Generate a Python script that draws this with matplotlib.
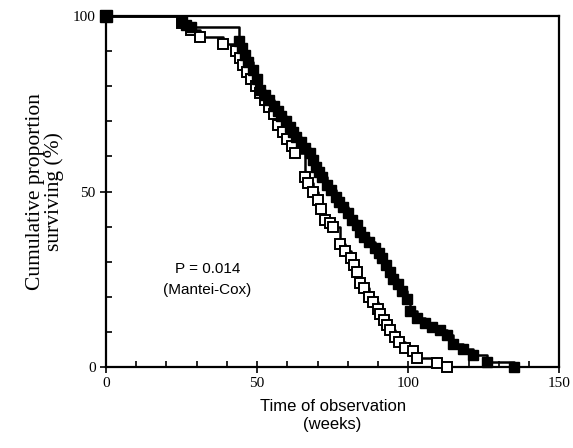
import matplotlib
matplotlib.use("Agg")
import matplotlib.pyplot as plt
from matplotlib.ticker import MultipleLocator

# Group with filled squares (longer survival)
filled_t = [0, 25, 26.5, 28, 44, 45, 46, 47, 48.5, 50, 51, 52.5, 54, 55.5, 57, 58,
            59.5, 61, 62, 63, 64.5, 66, 67.5, 68.5, 69.5, 70.5, 71.5, 73, 74.5, 76,
            77, 78.5, 80, 81.5, 83, 84, 85.5, 87, 89, 90.5, 91.5, 92.5, 94, 95, 96.5,
            98, 99.5, 100.7, 103, 105.6, 108, 110.6, 113, 115, 118, 121.5, 126, 135]
filled_s = [100, 98.5, 97.5, 97, 93, 91, 89, 87, 84.5, 82, 79, 77.5, 76, 74.5, 73, 71.5,
            70, 68.5, 67, 65.5, 64, 62.5, 61, 59, 57, 55.5, 54, 52, 50.5, 48.5,
            47, 45.5, 44, 42, 40.5, 38.5, 37, 35.5, 34, 32.5, 31, 29, 27, 25, 23.5,
            21.5, 19.5, 16, 14, 12.5, 11.5, 10.5, 9, 6.5, 5, 3.5, 1.5, 0]

# Group with open squares (shorter survival)
open_t = [0, 25, 28, 31, 38.7, 43, 44.5, 45.5, 46.5, 48, 49.5, 51, 52.5, 54, 55.5, 57,
          58.5, 60, 61.5, 62.6, 66, 67, 68.5, 70, 71, 72.5, 74, 75, 77.5, 79, 81, 82,
          83, 84, 85.5, 87, 88.5, 90, 90.7, 92, 93, 94, 95.5, 97, 99, 101.7, 103,
          109.6, 113]
open_s = [100, 98, 96, 94, 92, 90, 88, 86, 84, 82, 80, 78, 76, 74, 72, 69,
          67, 65, 63, 61, 54, 52.5, 50, 47.5, 45, 42, 41, 40, 35, 33, 31, 29,
          27, 24, 22.5, 20, 18.5, 16.5, 15, 13.5, 12, 10.5, 8.5, 7, 5.5, 4.5, 2.5,
          1.2, 0]

x_ticks = [0, 50, 100, 150]
y_ticks = [0, 50, 100]

fig = plt.figure(figsize=(5.73, 4.48), dpi=100)
ax = fig.add_axes([0.185, 0.181, 0.791, 0.783])

ax.plot(open_t, open_s, drawstyle="steps-post", color="black", lw=1.8,
        marker="s", markersize=7, markerfacecolor="white", markeredgecolor="black",
        markeredgewidth=1.4, zorder=3, clip_on=False)
ax.plot(filled_t, filled_s, drawstyle="steps-post", color="black", lw=1.8,
        marker="s", markersize=7, markerfacecolor="black", markeredgecolor="black",
        zorder=4, clip_on=False)
ax.plot([0], [100], marker="s", markersize=8, color="black", zorder=5, clip_on=False)

ax.set_xlim(0, 150)
ax.set_ylim(0, 100)
ax.set_xticks(x_ticks)
ax.set_yticks(y_ticks)
ax.xaxis.set_minor_locator(MultipleLocator(10))
ax.yaxis.set_minor_locator(MultipleLocator(10))
ax.tick_params(which="major", direction="inout", length=8, width=1.2,
               labelsize=11, top=False, right=False)
ax.tick_params(which="minor", direction="in", length=4, width=1.2,
               top=False, right=False)
for lab in ax.get_xticklabels() + ax.get_yticklabels():
    lab.set_fontfamily("Liberation Serif")
for sp in ax.spines.values():
    sp.set_linewidth(1.6)

ax.set_ylabel("Cumulative proportion\nsurviving (%)", fontfamily="Liberation Serif",
              fontsize=15.5, linespacing=0.95, labelpad=6)
ax.set_xlabel("Time of observation\n(weeks)", fontfamily="Liberation Sans",
              fontsize=12, linespacing=1.3, labelpad=6)

ax.text(33.5, 28, "P = 0.014", fontfamily="Liberation Sans", fontsize=11,
        ha="center", va="center")
ax.text(33.5, 22, "(Mantei-Cox)", fontfamily="Liberation Sans", fontsize=11,
        ha="center", va="center")

fig.savefig("out.png", dpi=100)
